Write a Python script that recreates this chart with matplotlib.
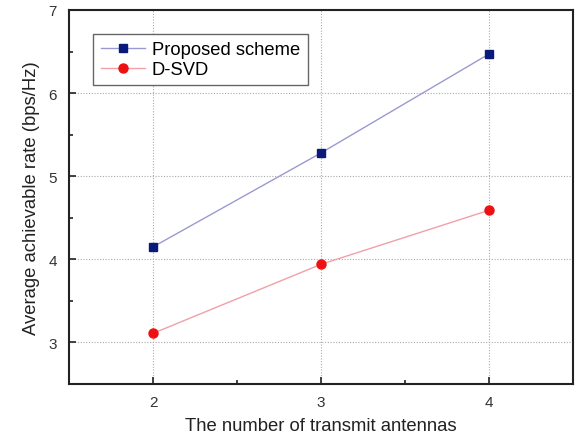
import matplotlib
matplotlib.use('Agg')
import matplotlib.pyplot as plt
from matplotlib.ticker import MultipleLocator

plt.rcParams['font.family'] = ['Liberation Sans', 'DejaVu Sans']

# Dados
antenas = [2, 3, 4]
proposto = [4.15, 5.28, 6.47]
dsvd = [3.11, 3.94, 4.59]

fig = plt.figure(figsize=(5.81, 4.39), dpi=100)
ax = fig.add_axes([0.119, 0.123, 0.867, 0.852])

ax.plot(antenas, proposto, color='#9a9ad0', lw=1.0, marker='s', ms=5.5,
        mfc='#0a1a7a', mec='#0a1a7a', label='Proposed scheme')
ax.plot(antenas, dsvd, color='#f0a0a8', lw=1.0, marker='o', ms=6.5,
        mfc='#ee1111', mec='#ee1111', label='D-SVD')

ax.set_xlim(1.5, 4.5)
ax.set_ylim(2.5, 7)
ax.xaxis.set_major_locator(MultipleLocator(1))
ax.xaxis.set_minor_locator(MultipleLocator(0.5))
ax.yaxis.set_major_locator(MultipleLocator(1))
ax.yaxis.set_minor_locator(MultipleLocator(0.5))
ax.tick_params(which='both', direction='in', colors='#222222', labelcolor='#333333', labelsize=11)
ax.tick_params(which='major', length=5, width=1.2)
ax.tick_params(which='minor', length=3, width=1.2)
ax.tick_params(axis='x', pad=8)
ax.tick_params(axis='y', pad=9)
for s in ax.spines.values():
    s.set_linewidth(1.5)
    s.set_color('#222222')

ax.grid(True, which='major', linestyle=(0, (1, 1.5)), color='#aaaaaa', lw=0.8)

ax.set_xlabel('The number of transmit antennas', fontsize=13.3, color='#222222', labelpad=6)
ax.set_ylabel('Average achievable rate (bps/Hz)', fontsize=13.3, color='#222222', labelpad=6)

leg = ax.legend(loc='upper left', bbox_to_anchor=(0.048, 0.936), borderaxespad=0,
                fontsize=13.2, fancybox=False, framealpha=1, edgecolor='#666666',
                handlelength=2.4, borderpad=0.4, labelspacing=0.15, handletextpad=0.4)
leg.get_frame().set_linewidth(1.0)

plt.savefig('out.png', dpi=100)
